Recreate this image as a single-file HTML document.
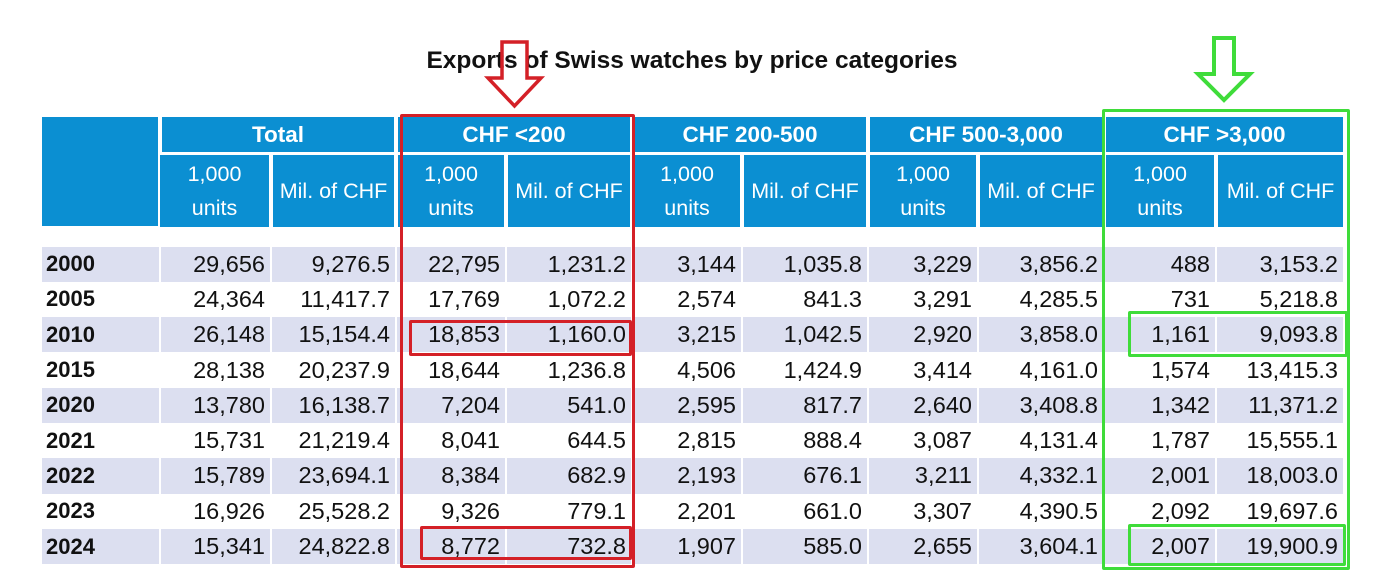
<!DOCTYPE html>
<html><head><meta charset="utf-8"><style>
body{margin:0;width:1384px;height:571px;background:#fff;position:relative;overflow:hidden;font-family:"Liberation Sans",sans-serif;}
.t{position:absolute;left:0;top:47px;width:1384px;text-align:center;font-weight:bold;font-size:24.5px;color:#111;}
table{position:absolute;left:42px;top:117px;border-collapse:collapse;table-layout:fixed;}
td{padding:0;font-size:23.5px;color:#111;white-space:nowrap;overflow:hidden;}
.h td{background:#0b8fd2;color:#fff;text-align:center;border-left:4px solid #fff;font-size:21.5px}
.h td:first-child{border-left:none}
.h1 td{height:35px;font-weight:bold;border-bottom:3px solid #fff;font-size:22.5px}
.h2 td{height:72px;line-height:34px;}
.sp td{height:18px}
.r td{height:35.3px;text-align:right;padding-right:5px;border-left:2px solid rgba(255,255,255,.8)}
.r td:first-child{text-align:left;font-weight:bold;padding-left:4px;border-left:none;font-size:22px}
.r.s td{background:#dcdff0}
.b{position:absolute;box-sizing:border-box;border:3px solid #d42027;border-radius:2px}
.g{position:absolute;box-sizing:border-box;border:3px solid #3fdc3a;border-radius:2px}
</style></head><body>
<div class="t">Exports of Swiss watches by price categories</div>
<table>
<colgroup><col style="width:118px"><col style="width:111px"><col style="width:125px"><col style="width:110px"><col style="width:126px"><col style="width:110px"><col style="width:126px"><col style="width:110px"><col style="width:126px"><col style="width:112px"><col style="width:127px"></colgroup>
<tr class="h h1"><td rowspan="2"></td><td colspan="2">Total</td><td colspan="2">CHF &lt;200</td><td colspan="2">CHF 200-500</td><td colspan="2">CHF 500-3,000</td><td colspan="2">CHF &gt;3,000</td></tr>
<tr class="h h2"><td>1,000<br>units</td><td>Mil. of CHF</td><td>1,000<br>units</td><td>Mil. of CHF</td><td>1,000<br>units</td><td>Mil. of CHF</td><td>1,000<br>units</td><td>Mil. of CHF</td><td>1,000<br>units</td><td>Mil. of CHF</td></tr>
<tr class="sp"><td colspan="11"></td></tr>
<tr class="r s"><td>2000</td><td>29,656</td><td>9,276.5</td><td>22,795</td><td>1,231.2</td><td>3,144</td><td>1,035.8</td><td>3,229</td><td>3,856.2</td><td>488</td><td>3,153.2</td></tr>
<tr class="r"><td>2005</td><td>24,364</td><td>11,417.7</td><td>17,769</td><td>1,072.2</td><td>2,574</td><td>841.3</td><td>3,291</td><td>4,285.5</td><td>731</td><td>5,218.8</td></tr>
<tr class="r s"><td>2010</td><td>26,148</td><td>15,154.4</td><td>18,853</td><td>1,160.0</td><td>3,215</td><td>1,042.5</td><td>2,920</td><td>3,858.0</td><td>1,161</td><td>9,093.8</td></tr>
<tr class="r"><td>2015</td><td>28,138</td><td>20,237.9</td><td>18,644</td><td>1,236.8</td><td>4,506</td><td>1,424.9</td><td>3,414</td><td>4,161.0</td><td>1,574</td><td>13,415.3</td></tr>
<tr class="r s"><td>2020</td><td>13,780</td><td>16,138.7</td><td>7,204</td><td>541.0</td><td>2,595</td><td>817.7</td><td>2,640</td><td>3,408.8</td><td>1,342</td><td>11,371.2</td></tr>
<tr class="r"><td>2021</td><td>15,731</td><td>21,219.4</td><td>8,041</td><td>644.5</td><td>2,815</td><td>888.4</td><td>3,087</td><td>4,131.4</td><td>1,787</td><td>15,555.1</td></tr>
<tr class="r s"><td>2022</td><td>15,789</td><td>23,694.1</td><td>8,384</td><td>682.9</td><td>2,193</td><td>676.1</td><td>3,211</td><td>4,332.1</td><td>2,001</td><td>18,003.0</td></tr>
<tr class="r"><td>2023</td><td>16,926</td><td>25,528.2</td><td>9,326</td><td>779.1</td><td>2,201</td><td>661.0</td><td>3,307</td><td>4,390.5</td><td>2,092</td><td>19,697.6</td></tr>
<tr class="r s"><td>2024</td><td>15,341</td><td>24,822.8</td><td>8,772</td><td>732.8</td><td>1,907</td><td>585.0</td><td>2,655</td><td>3,604.1</td><td>2,007</td><td>19,900.9</td></tr>
</table>
<div class="b" style="left:400px;top:114px;width:235px;height:454px"></div>
<div class="b" style="left:409px;top:320px;width:223px;height:36px"></div>
<div class="b" style="left:420px;top:526px;width:212px;height:34px"></div>
<div class="g" style="left:1102px;top:109px;width:248px;height:461px"></div>
<div class="g" style="left:1128px;top:311px;width:220px;height:46px"></div>
<div class="g" style="left:1128px;top:524px;width:218px;height:42px"></div>
<svg style="position:absolute;left:0;top:0" width="1384" height="571">
<polygon points="502,42 527,42 527,78 541,78 514.5,106 488,78 502,78" fill="none" stroke="#d42027" stroke-width="3.5"/>
<polygon points="1214,38 1234,38 1234,74 1250,74 1224,100 1198,74 1214,74" fill="none" stroke="#3fdc3a" stroke-width="4"/>
</svg>
</body></html>
